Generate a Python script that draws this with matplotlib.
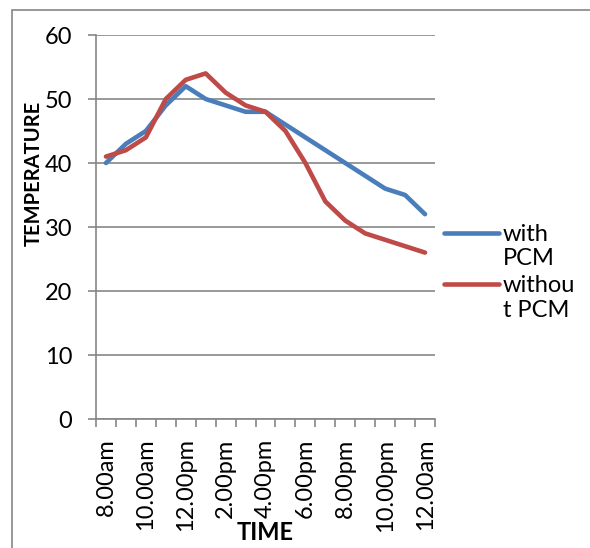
import matplotlib.pyplot as plt
import matplotlib.patches as mpatches

# Data
times = ['8.00am', '9.00am', '10.00am', '11.00am', '12.00pm', '1.00pm', '2.00pm',
         '3.00pm', '4.00pm', '5.00pm', '6.00pm', '7.00pm', '8.00pm', '9.00pm',
         '10.00pm', '11.00pm', '12.00am']
with_pcm = [40, 43, 45, 49, 52, 50, 49, 48, 48, 46, 44, 42, 40, 38, 36, 35, 32]
without_pcm = [41, 42, 44, 50, 53, 54, 51, 49, 48, 45, 40, 34, 31, 29, 28, 27, 26]

plt.rcParams['font.family'] = ['Lato', 'DejaVu Sans']

W, H = 590, 548
fig = plt.figure(figsize=(W / 100, H / 100), dpi=100)
ax = fig.add_axes([96 / W, 1 - 419 / H, (435 - 96) / W, (419 - 35) / H])

grid_c = '#868686'
x = list(range(len(times)))
ax.plot(x, with_pcm, color='#4A7EBB', lw=3.3, solid_capstyle='round', label='with\nPCM')
ax.plot(x, without_pcm, color='#BE4B48', lw=3.3, solid_capstyle='round', label='withou\nt PCM')

ax.set_xlim(-0.5, len(times) - 0.5)
ax.set_ylim(0, 60)
ax.set_yticks(range(0, 61, 10))
ax.yaxis.grid(True, color=grid_c, lw=1.2)
ax.set_axisbelow(True)
ax.tick_params(axis='y', labelsize=17, length=6, color=grid_c, width=1.2, pad=11)

ax.set_xticks(x[::2])
ax.set_xticklabels(times[::2], rotation=90, fontsize=17)
ax.set_xticks([i - 0.5 for i in range(len(times) + 1)], minor=True)
ax.tick_params(axis='x', which='major', length=0, pad=14)
ax.tick_params(axis='x', which='minor', length=6, color=grid_c, width=1.2)

for s in ['top', 'right']:
    ax.spines[s].set_visible(False)
for s in ['left', 'bottom']:
    ax.spines[s].set_color(grid_c)
    ax.spines[s].set_linewidth(1.2)

ax.set_ylabel('TEMPERATURE', fontsize=14.5, fontweight='bold')
ax.yaxis.set_label_coords((44 - 96) / 339, (419 - 173) / 384)
fig.text(265 / W, 1 - 532 / H, 'TIME', fontsize=17, fontweight='bold', ha='center', va='center')

leg = ax.legend(loc='upper left', bbox_to_anchor=(444 / W, 1 - 224 / H),
                bbox_transform=fig.transFigure, frameon=False, fontsize=17,
                handlelength=2.35, handletextpad=0.15, labelspacing=0.25,
                borderpad=0, borderaxespad=0)
# Excel puts the legend key level with the first text line
for ln in leg.get_lines():
    y0 = ln.get_ydata()
    ln.set_ydata([v + 10 for v in y0])

# outer chart border
fig.patches.append(mpatches.Rectangle((12 / W, -0.1), 1.2, 1 - 10 / H + 0.1,
                                      transform=fig.transFigure, fill=False,
                                      edgecolor=grid_c, lw=1.2))

fig.savefig('out.png', dpi=100)
